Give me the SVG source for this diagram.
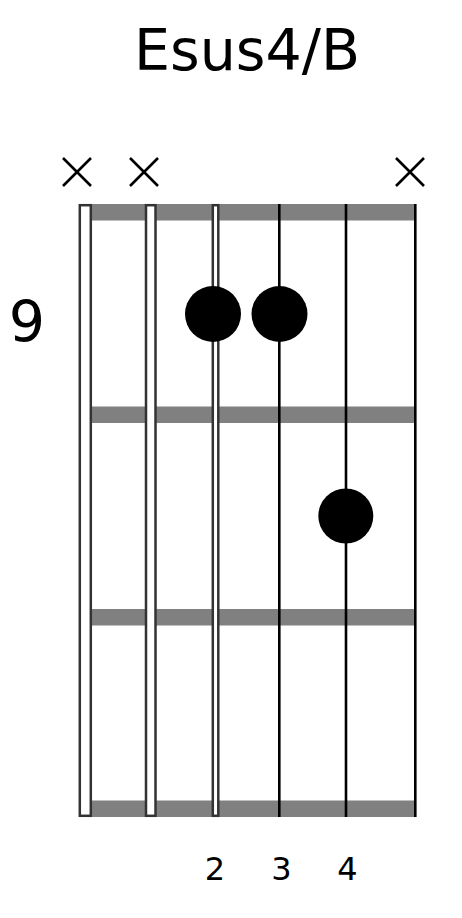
<svg xmlns="http://www.w3.org/2000/svg" width="462" height="918" viewBox="0 0 462 918">
<style>
.t{font-family:"DejaVu Sans","Liberation Sans",sans-serif;fill:#000;text-anchor:middle}
.fret{fill:#808080}
.open{fill:#fff;stroke:#333;stroke-width:2.5}
.str{stroke:#000;stroke-width:2.6}
.x{stroke:#000;stroke-width:2.6;fill:none}
.dot{fill:#000}
</style>
<rect width="462" height="918" fill="#fff"/>
<g id="title"><text class="t" x="247" y="70" font-size="57">Esus4/B</text></g>
<g id="fret-label"><text class="t" x="27" y="341.5" font-size="57">9</text></g>
<g id="frets">
<rect class="fret" x="79" y="204" width="337" height="16.5"/>
<rect class="fret" x="79" y="406.5" width="337" height="16.5"/>
<rect class="fret" x="79" y="609" width="337" height="16.5"/>
<rect class="fret" x="79" y="800.5" width="337" height="16.5"/>
</g>
<g id="strings">
<rect id="string1" class="open" x="79.8" y="205.2" width="11" height="610.6"/>
<rect id="string2" class="open" x="146" y="205.2" width="9.5" height="610.6"/>
<rect id="string3" class="open" x="212.8" y="205.2" width="5.5" height="610.6"/>
<line id="string4" class="str" x1="279.3" y1="204" x2="279.3" y2="817"/>
<line id="string5" class="str" x1="346" y1="204" x2="346" y2="817"/>
<line id="string6" class="str" x1="415.3" y1="204" x2="415.3" y2="817"/>
</g>
<g id="mutes">
<path class="x" d="M63 158L91 186M91 158L63 186"/>
<path class="x" d="M130 158L158 186M158 158L130 186"/>
<path class="x" d="M396 158L424 186M424 158L396 186"/>
</g>
<g id="dots">
<circle class="dot" cx="213" cy="314" r="28"/>
<circle class="dot" cx="279.5" cy="314" r="28"/>
<circle class="dot" cx="345.8" cy="516" r="27.5"/>
</g>
<g id="fingers">
<text class="t" x="215" y="880" font-size="32">2</text>
<text class="t" x="281.5" y="880" font-size="32">3</text>
<text class="t" x="347.5" y="880" font-size="32">4</text>
</g>
</svg>
